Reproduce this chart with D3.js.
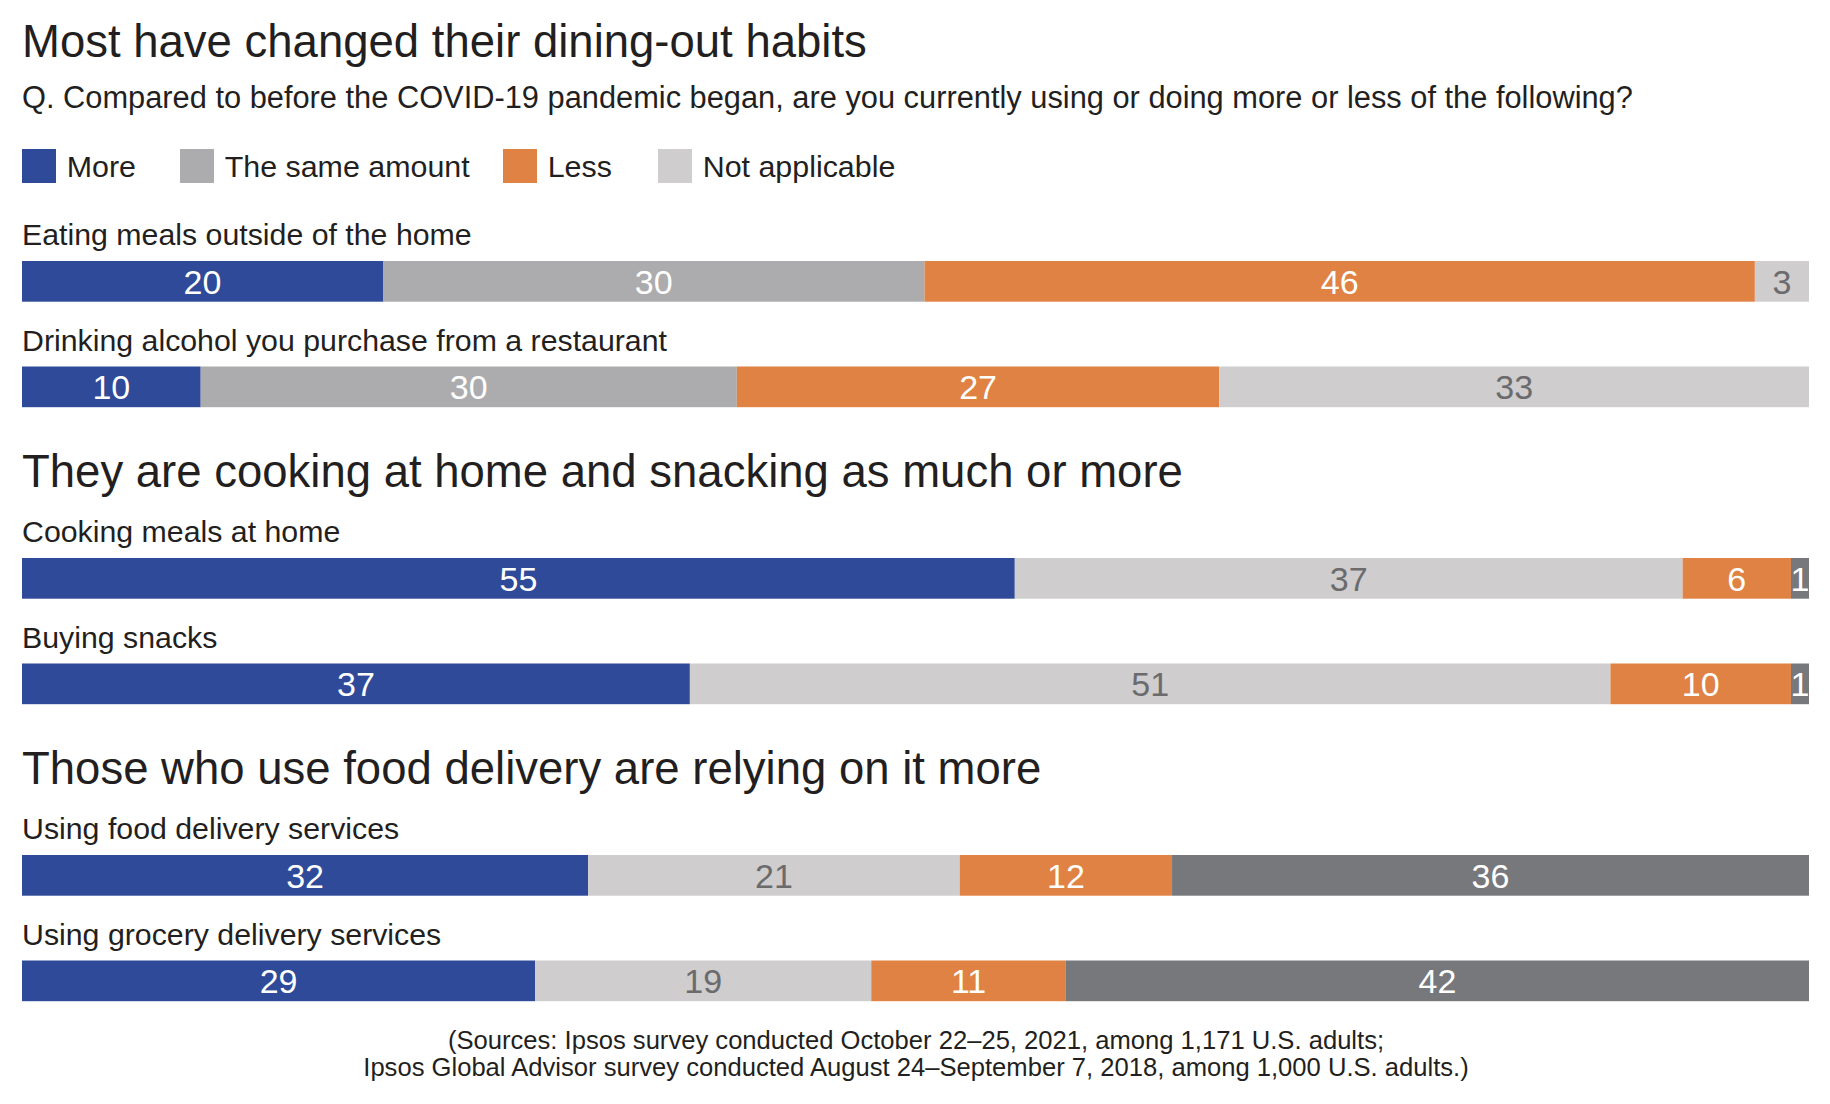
<!DOCTYPE html>
<html>
<head>
<meta charset="utf-8">
<script src="https://cdn.jsdelivr.net/npm/d3@7/dist/d3.min.js"></script>
<style>
  html, body { margin: 0; padding: 0; background: #ffffff; }
  svg { display: block; }
  text { font-family: "Liberation Sans", Arial, Helvetica, sans-serif; fill: #231f20; }
</style>
</head>
<body>
<svg id="chart" width="1830" height="1104"></svg>
<script>
// ---------- DATA ----------
const chartTitle = "Most have changed their dining-out habits";
const questionText = "Q. Compared to before the COVID-19 pandemic began, are you currently using or doing more or less of the following?";
const sectionTitles = [
  "Most have changed their dining-out habits",
  "They are cooking at home and snacking as much or more",
  "Those who use food delivery are relying on it more"
];
const legendLabels = ["More", "The same amount", "Less", "Not applicable"];
const categories = [
  "Eating meals outside of the home",
  "Drinking alcohol you purchase from a restaurant",
  "Cooking meals at home",
  "Buying snacks",
  "Using food delivery services",
  "Using grocery delivery services"
];
const categorySection = [0, 0, 1, 1, 2, 2];
const seriesMore = [20, 10, 55, 37, 32, 29];
const seriesSame = [30, 30, 37, 51, 21, 19];
const seriesLess = [46, 27, 6, 10, 12, 11];
const seriesNotApplicable = [3, 33, 1, 1, 36, 42];
const footnoteLines = [
  "(Sources: Ipsos survey conducted October 22\u201325, 2021, among 1,171 U.S. adults;",
  "Ipsos Global Advisor survey conducted August 24\u2013September 7, 2018, among 1,000 U.S. adults.)"
];

// ---------- STYLE ----------
const C = {
  blue: "#2e4a98", gray: "#acacae", orange: "#e08243", light: "#cfcdce", dark: "#77787b",
  text: "#231f20", labelOnLight: "#6b6b6d"
};
const legendColors = [C.blue, C.gray, C.orange, C.light];
const sectionPalettes = [
  [C.blue, C.gray, C.orange, C.light],
  [C.blue, C.light, C.orange, C.dark],
  [C.blue, C.light, C.orange, C.dark]
];
const L = {
  left: 22, right: 1809,
  titleY: 57, titleSize: 45.5,
  subY: 108, subSize: 30.8,
  legendTop: 149, legendBox: 34, legendTextY: 177, legendSize: 30.4,
  legendX: [22, 180, 503, 658], legendTextGap: 44.7,
  firstBarTop: 261, sectionStep: 297, rowStep: 105.5,
  barH: 40.7, rowLabelOffset: 16, rowLabelSize: 30.3,
  sectionTitleOffset: 71, sectionTitleSize: 45.5,
  valueSize: 34,
  footY: [1049, 1076], footSize: 25.6, footX: 916
};

const svg = d3.select("#chart");

// Title (section 1 title) & question
svg.append("text").attr("x", L.left).attr("y", L.titleY)
  .style("font-size", L.titleSize + "px").text(chartTitle);
svg.append("text").attr("x", L.left).attr("y", L.subY)
  .style("font-size", L.subSize + "px").text(questionText);

// Legend
const lg = svg.append("g");
legendLabels.forEach((lab, i) => {
  lg.append("rect").attr("x", L.legendX[i]).attr("y", L.legendTop)
    .attr("width", L.legendBox).attr("height", L.legendBox).attr("fill", legendColors[i]);
  lg.append("text").attr("x", L.legendX[i] + L.legendTextGap).attr("y", L.legendTextY)
    .style("font-size", L.legendSize + "px").text(lab);
});

// Rows
const rows = categories.map((c, i) => ({
  name: c, section: categorySection[i],
  values: [seriesMore[i], seriesSame[i], seriesLess[i], seriesNotApplicable[i]]
}));

// vertical placement: group index and position within group
const rowTop = (i) => {
  const sec = rows[i].section;
  const within = rows.slice(0, i).filter(r => r.section === sec).length;
  return L.firstBarTop + sec * L.sectionStep + within * L.rowStep;
};

// section titles for sections 2 and 3
[1, 2].forEach(s => {
  svg.append("text").attr("x", L.left)
    .attr("y", L.firstBarTop + s * L.sectionStep - L.sectionTitleOffset)
    .style("font-size", L.sectionTitleSize + "px").text(sectionTitles[s]);
});

rows.forEach((r, i) => {
  const top = rowTop(i);
  const total = d3.sum(r.values);
  const x = d3.scaleLinear().domain([0, total]).range([L.left, L.right]);
  const stacked = [];
  let acc = 0;
  r.values.forEach((v, k) => { stacked.push({ v, k, x0: acc, x1: acc + v }); acc += v; });
  const pal = sectionPalettes[r.section];

  const g = svg.append("g");
  g.append("text").attr("x", L.left).attr("y", top - L.rowLabelOffset)
    .style("font-size", L.rowLabelSize + "px").text(r.name);

  g.selectAll("rect.seg").data(stacked).join("rect").attr("class", "seg")
    .attr("x", d => x(d.x0)).attr("y", top)
    .attr("width", d => x(d.x1) - x(d.x0)).attr("height", L.barH)
    .attr("fill", d => pal[d.k]);

  g.selectAll("text.val").data(stacked).join("text").attr("class", "val")
    .attr("x", d => (x(d.x0) + x(d.x1)) / 2).attr("y", top + L.barH / 2)
    .attr("dy", "0.36em").attr("text-anchor", "middle")
    .style("font-size", L.valueSize + "px")
    .style("fill", d => pal[d.k] === C.light ? C.labelOnLight : "#ffffff")
    .text(d => d.v);
});

// Footnote
footnoteLines.forEach((t, i) => {
  svg.append("text").attr("x", L.footX).attr("y", L.footY[i]).attr("text-anchor", "middle")
    .style("font-size", L.footSize + "px").text(t);
});
</script>
</body>
</html>
